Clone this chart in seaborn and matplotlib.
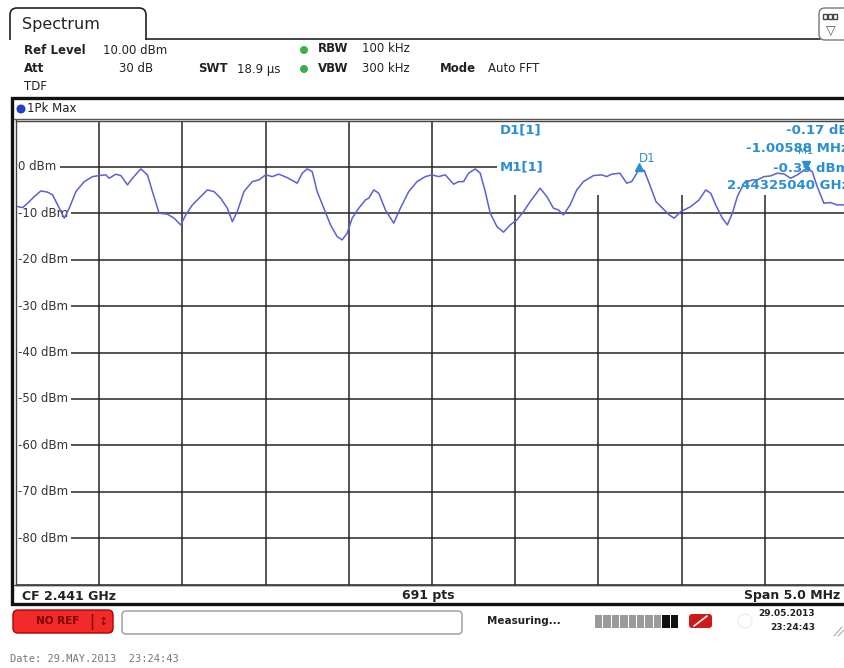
#!/usr/bin/env python3
"""
plot.py
Spectrum analyzer screen (1Pk Max trace) redrawn with seaborn/matplotlib.
"""

import matplotlib.pyplot as plt
import seaborn as sns
import pandas as pd
from matplotlib.patches import FancyBboxPatch, Rectangle, Circle

sns.set_theme(style="white")
plt.rcParams["font.family"] = ["DejaVu Sans"]

# ------------------------------------------------------------------
# Data
# ------------------------------------------------------------------

CF_MHZ = 2441.0
SPAN_MHZ = 5.0
REF_LEVEL = 10.0
DB_PER_DIV = 10.0
N_DIV = 10
N_POINTS = 691

offset_mhz = [
    0.01, 0.04, 0.07, 0.11, 0.15, 0.19, 0.22, 0.26, 0.29, 0.32,
    0.36, 0.41, 0.46, 0.50, 0.54, 0.56, 0.60, 0.63, 0.67, 0.70,
    0.75, 0.79, 0.82, 0.86, 0.91, 0.95, 0.99, 1.02, 1.06, 1.11,
    1.15, 1.19, 1.23, 1.27, 1.30, 1.33, 1.37, 1.42, 1.46, 1.50,
    1.54, 1.58, 1.63, 1.69, 1.72, 1.75, 1.78, 1.81, 1.85, 1.89,
    1.93, 1.96, 1.99, 2.02, 2.06, 2.10, 2.12, 2.15, 2.18, 2.22,
    2.27, 2.31, 2.36, 2.41, 2.46, 2.50, 2.54, 2.58, 2.63, 2.66,
    2.69, 2.72, 2.76, 2.79, 2.82, 2.85, 2.89, 2.93, 2.97, 3.01,
    3.05, 3.09, 3.15, 3.19, 3.23, 3.26, 3.29, 3.33, 3.37, 3.41,
    3.47, 3.52, 3.55, 3.58, 3.63, 3.67, 3.70, 3.745, 3.775, 3.805,
    3.846, 3.885, 3.925, 3.955, 3.995, 4.055, 4.105, 4.145, 4.175, 4.205,
    4.245, 4.275, 4.305, 4.335, 4.375, 4.425, 4.455, 4.495, 4.535, 4.575,
    4.615, 4.655, 4.695, 4.750, 4.785, 4.815, 4.855, 4.895, 4.935, 4.975,
    5.0,
]

level_dbm = [
    -8.56, -8.77, -7.82, -6.40, -5.17, -5.45, -6.03, -8.90, -11.05, -8.90,
    -5.32, -3.17, -2.09, -1.87, -1.72, -2.44, -1.57, -1.87, -3.88, -2.44,
    -0.43, -1.72, -5.32, -9.98, -10.19, -11.05, -12.50, -10.34, -8.19, -6.40,
    -4.96, -5.32, -6.75, -8.90, -11.79, -9.63, -5.32, -3.17, -2.80, -1.72,
    -2.09, -1.57, -2.31, -3.51, -1.36, -0.43, -1.01, -5.32, -8.90, -12.50,
    -15.02, -15.73, -14.29, -11.05, -8.90, -7.11, -6.75, -4.96, -5.67, -9.27,
    -12.13, -8.90, -5.32, -3.17, -2.09, -1.72, -2.09, -1.72, -3.73, -3.17,
    -3.17, -1.36, -0.43, -1.36, -5.32, -9.98, -12.86, -14.07, -12.50, -11.42,
    -9.63, -7.48, -4.59, -6.40, -8.90, -9.27, -10.34, -8.19, -4.96, -3.17,
    -1.87, -1.72, -2.09, -1.57, -1.36, -3.51, -3.17, -0.52, -0.75, -3.51,
    -7.48, -8.90, -10.34, -11.05, -9.63, -8.56, -7.11, -4.96, -5.67, -8.19,
    -11.05, -12.50, -9.98, -6.40, -3.51, -2.80, -2.80, -2.09, -1.94, -1.36,
    -1.51, -2.44, -1.72, -0.35, -1.01, -4.25, -7.82, -7.69, -8.19, -8.19,
    -8.3,
]

y_tick_dbm = [0, -10, -20, -30, -40, -50, -60, -70, -80]

m1_freq_mhz = 2443.25040
m1_level = -0.35
d1_delta_mhz = -1.00588
d1_delta_db = -0.17

start_mhz = CF_MHZ - SPAN_MHZ / 2
df = pd.DataFrame({
    "freq": [start_mhz + o for o in offset_mhz],
    "level": level_dbm,
})

# ------------------------------------------------------------------
# Figure + pixel helpers
# ------------------------------------------------------------------

W, H = 844, 668
fig = plt.figure(figsize=(W / 100, H / 100), dpi=100)
fig.patch.set_facecolor("white")

deco = fig.add_axes([0, 0, 1, 1], zorder=0)
deco.set_xlim(0, W)
deco.set_ylim(H, 0)
deco.axis("off")


def txt(x, y, s, **kw):
    kw.setdefault("va", "center")
    kw.setdefault("fontsize", 8.5)
    kw.setdefault("color", "#222222")
    fig.text(x / W, 1 - y / H, s, **kw)


# ------------------------------------------------------------------
# Header (tab + settings)
# ------------------------------------------------------------------

deco.add_patch(FancyBboxPatch((10, 8), 136, 44, boxstyle="round,pad=0,rounding_size=7",
                              fc="white", ec="#222222", lw=1.2))
deco.add_patch(Rectangle((6, 39.5), 144, 16, fc="white", ec="none", zorder=3))
deco.plot([146, 820], [39, 39], color="#222222", lw=1.2, zorder=4)
deco.add_patch(FancyBboxPatch((819, 8), 40, 32, boxstyle="round,pad=0,rounding_size=6",
                              fc="white", ec="#777777", lw=1.0, zorder=4))
for k in range(3):
    deco.add_patch(Rectangle((823 + k * 5, 14), 4, 5, fc="white", ec="#444444", lw=1.0, zorder=5))
txt(831, 30, "▽", fontsize=9, ha="center", color="#555555")
txt(22, 24, "Spectrum", fontsize=11.5)

txt(24, 50, "Ref Level", fontweight="bold")
txt(103, 50, "10.00 dBm")
txt(24, 69, "Att", fontweight="bold")
txt(153, 69, "30 dB", ha="right")
txt(198, 69, "SWT", fontweight="bold")
txt(237, 69, "18.9 µs")
deco.add_patch(Circle((304, 50), 4, fc="#3cb043", ec="none"))
deco.add_patch(Circle((304, 69), 4, fc="#3cb043", ec="none"))
txt(318, 49, "RBW", fontweight="bold")
txt(362, 49, "100 kHz")
txt(318, 69, "VBW", fontweight="bold")
txt(362, 69, "300 kHz")
txt(440, 69, "Mode", fontweight="bold")
txt(488, 69, "Auto FFT")
txt(24, 87, "TDF")

# trace panel frame
deco.add_patch(Rectangle((12, 98), 842, 506, fc="white", ec="#111111", lw=2.4))
deco.plot([14, 850], [118.5, 118.5], color="#555555", lw=1.0)
deco.add_patch(Circle((21, 109), 4.5, fc="#1f3fd0", ec="none"))
txt(27, 109, "1Pk Max")

# ------------------------------------------------------------------
# Trace axes
# ------------------------------------------------------------------

x0, x1, y_top, y_bot = 16, 848, 120.5, 584.5
ax = fig.add_axes([x0 / W, 1 - y_bot / H, (x1 - x0) / W, (y_bot - y_top) / H], zorder=1)
ax.set_facecolor("white")

bottom_level = REF_LEVEL - N_DIV * DB_PER_DIV
ax.set_xlim(start_mhz, start_mhz + SPAN_MHZ)
ax.set_ylim(bottom_level, REF_LEVEL)
ax.set_xticks([start_mhz + SPAN_MHZ * i / N_DIV for i in range(N_DIV + 1)])
ax.set_yticks([REF_LEVEL - DB_PER_DIV * i for i in range(N_DIV + 1)])
ax.set_axisbelow(True)
ax.grid(True, color="#262626", lw=1.1)
ax.tick_params(left=False, bottom=False, labelleft=False, labelbottom=False)
for sp in ax.spines.values():
    sp.set_color("#444444")
    sp.set_linewidth(1.0)

# marker info block hides the grid in the top-right corner
ax.add_patch(Rectangle((start_mhz + 2.89, -6.0), 2.5, 17, fc="white", ec="none", zorder=1))

for lvl in y_tick_dbm:
    ax.text(0.003, lvl, f"{lvl} dBm", transform=ax.get_yaxis_transform(),
            ha="left", va="center", fontsize=8.5, color="#333333", zorder=2,
            bbox=dict(fc="white", ec="none", pad=2.0))

sns.lineplot(data=df, x="freq", y="level", ax=ax, color="#5a60d8", lw=1.1,
             zorder=3, legend=False)

d1_freq = m1_freq_mhz + d1_delta_mhz
ax.plot([d1_freq], [m1_level + d1_delta_db + 0.6], marker="^", ms=6,
        color="#2b8fd3", ls="none", zorder=4)
ax.plot([m1_freq_mhz], [m1_level + 0.7], marker="v", ms=6,
        color="#2b8fd3", ls="none", zorder=4)

# ------------------------------------------------------------------
# Marker readout (the instrument screen cuts it at the right edge)
# ------------------------------------------------------------------

mk = dict(color="#2b8fd3", fontweight="bold", fontsize=9.5)
txt(500, 130, "D1[1]", **mk)
txt(849, 130, f"{d1_delta_db:.2f} dB", ha="right", **mk)
txt(849, 149, f"{d1_delta_mhz:.5f} MHz", ha="right", **mk)
txt(500, 167, "M1[1]", **mk)
txt(849, 168, f"{m1_level:.2f} dBm", ha="right", **mk)
txt(849, 186, f"{m1_freq_mhz / 1000:.8f} GHz", ha="right", **mk)
txt(639, 159, "D1", color="#2b8fd3", fontsize=8.5)
txt(806, 151, "M1", color="#2b8fd3", fontsize=7.5, ha="center")

# ------------------------------------------------------------------
# Bottom strip + status bar
# ------------------------------------------------------------------

deco.plot([14, 850], [585, 585], color="#444444", lw=1.0)
txt(22, 596, f"CF {CF_MHZ / 1000:.3f} GHz", fontweight="bold", fontsize=9)
txt(428, 596, f"{N_POINTS} pts", fontweight="bold", fontsize=9, ha="center")
txt(840, 596, f"Span {SPAN_MHZ:.1f} MHz", fontweight="bold", fontsize=9, ha="right")

deco.add_patch(FancyBboxPatch((13, 610), 100, 23, boxstyle="round,pad=0,rounding_size=5",
                              fc="#f22a2a", ec="#b00000", lw=1.0))
txt(58, 621.5, "NO REF", fontweight="bold", fontsize=7.5, color="#7a0000", ha="center")
deco.plot([92, 92], [614, 629], color="#7a0000", lw=1.0)
txt(103, 621.5, "↕", fontsize=8, color="#7a0000", ha="center")
deco.add_patch(FancyBboxPatch((122, 611), 340, 23, boxstyle="round,pad=0,rounding_size=4",
                              fc="white", ec="#999999", lw=1.0))
txt(487, 621, "Measuring...", fontweight="bold", fontsize=7.5)
for i in range(10):
    deco.add_patch(Rectangle((595 + i * 8.4, 615), 7.4, 13,
                             fc="#111111" if i >= 8 else "#9a9a9a", ec="none"))
deco.add_patch(FancyBboxPatch((689, 614), 23, 14, boxstyle="round,pad=0,rounding_size=3",
                              fc="#d01818", ec="none"))
deco.plot([694, 707], [626, 616], color="white", lw=1.2)
deco.add_patch(Circle((745, 621), 7, fc="none", ec="#eeeeee", lw=1.0))
txt(815, 614, "29.05.2013", fontsize=6.5, fontweight="bold", ha="right")
txt(815, 628, "23:24:43", fontsize=6.5, fontweight="bold", ha="right")
deco.plot([834, 842], [636, 627], color="#aaaaaa", lw=0.8)
deco.plot([838, 844], [636, 630], color="#aaaaaa", lw=0.8)

txt(10, 659, "Date: 29.MAY.2013  23:24:43", family="DejaVu Sans Mono",
    fontsize=7.5, color="#777777")

fig.savefig("out.png", dpi=100)
plt.close(fig)
